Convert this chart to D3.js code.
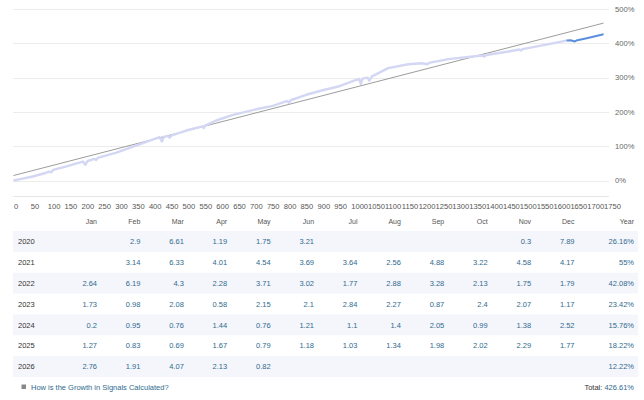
<!DOCTYPE html>
<html>
<head>
<meta charset="utf-8">
<script src="https://cdn.jsdelivr.net/npm/d3@7"></script>
<style>
  body { margin: 0; background: #fff; }
  svg { display: block; font-family: "Liberation Sans", Arial, sans-serif; }
</style>
</head>
<body>
<div id="chart"></div>
<script>
"use strict";

// growth curve: x = record index, y = growth %
var growthX = [0, 20, 57, 95, 107, 112, 118, 160, 206, 213, 220, 240, 245, 250, 305, 384, 433, 440, 446, 458, 463, 468,
  512, 560, 564, 568, 601, 651, 730, 769, 812, 817, 822, 868, 914, 963, 1008, 1025, 1030, 1035, 1050, 1055, 1062,
  1111, 1171, 1211, 1228, 1232, 1290, 1389, 1396, 1402, 1468, 1500, 1505, 1510, 1537, 1576, 1640];
var growthY = [0, 4, 11.7, 22, 26.2, 24, 31, 42, 55.4, 46, 57, 63, 60, 66, 81.6, 109, 126.5, 114, 127, 130, 125, 131,
  145.8, 158, 153, 160, 175, 191.5, 210, 217.8, 232, 226, 234, 250, 262.4, 274, 290.7, 296, 282, 297, 300, 291, 303,
  327.7, 339, 342, 339, 343, 354, 364.5, 361, 366, 376, 382, 379, 383, 388, 395.6, 408];

// latest stretch, drawn in the stronger blue
var recentX = [1640, 1652, 1665, 1672, 1700, 1750];
var recentY = [408, 409, 405.5, 409, 415, 426.6];

// straight trend line
var trendX = [0, 1750];
var trendY = [14.6, 459];

var xTicks = d3.range(0, 1751, 50);
var yTicks = [0, 100, 200, 300, 400, 500];

var months = ["Jan", "Feb", "Mar", "Apr", "May", "Jun", "Jul", "Aug", "Sep", "Oct", "Nov", "Dec"];
var years = ["2020", "2021", "2022", "2023", "2024", "2025", "2026"];
var monthly = [
  [null, 2.9, 6.61, 1.19, 1.75, 3.21, null, null, null, null, 0.3, 7.89],
  [null, 3.14, 6.33, 4.01, 4.54, 3.69, 3.64, 2.56, 4.88, 3.22, 4.58, 4.17],
  [2.64, 6.19, 4.3, 2.28, 3.71, 3.02, 1.77, 2.88, 3.28, 2.13, 1.75, 1.79],
  [1.73, 0.98, 2.08, 0.58, 2.15, 2.1, 2.84, 2.27, 0.87, 2.4, 2.07, 1.17],
  [0.2, 0.95, 0.76, 1.44, 0.76, 1.21, 1.1, 1.4, 2.05, 0.99, 1.38, 2.52],
  [1.27, 0.83, 0.69, 1.67, 0.79, 1.18, 1.03, 1.34, 1.98, 2.02, 2.29, 1.77],
  [2.76, 1.91, 4.07, 2.13, 0.82, null, null, null, null, null, null, null]
];
var yearTotals = ["26.16%", "55%", "42.08%", "23.42%", "15.76%", "18.22%", "12.22%"];
var totalText = "426.61%";

var width = 644, height = 400;
var blue = "#2f6b8e";

var svg = d3.select("#chart").append("svg")
  .attr("width", width)
  .attr("height", height);

var x = d3.scaleLinear().domain([0, 1766]).range([13.5, 609]);
var y = d3.scaleLinear().domain([-48, 500]).range([197, 9]);

// grid
svg.append("g").selectAll("line")
  .data(yTicks)
  .enter().append("line")
    .attr("x1", 13).attr("x2", 609)
    .attr("y1", function(d){ return Math.round(y(d)) + 0.5; })
    .attr("y2", function(d){ return Math.round(y(d)) + 0.5; })
    .attr("stroke", "#ececec");

svg.append("line")
  .attr("x1", 13).attr("x2", 609)
  .attr("y1", 196.5).attr("y2", 196.5)
  .attr("stroke", "#e6e6e6");

// y labels on the right
svg.append("g").selectAll("text")
  .data(yTicks)
  .enter().append("text")
    .attr("x", 615)
    .attr("y", function(d){ return y(d) + 2.8; })
    .attr("font-size", "7.6px")
    .attr("fill", "#666")
    .text(function(d){ return d + "%"; });

// x labels
svg.append("g").selectAll("text")
  .data(xTicks)
  .enter().append("text")
    .attr("x", function(d){ return x(d) + 0.5; })
    .attr("y", 209)
    .attr("font-size", "7.6px")
    .attr("fill", "#555")
    .text(function(d){ return d; });

var line = d3.line()
  .x(function(d){ return x(d[0]); })
  .y(function(d){ return y(d[1]); });

svg.append("path")
  .datum(d3.zip(trendX, trendY))
  .attr("d", line)
  .attr("fill", "none")
  .attr("stroke", "#9c9c9c")
  .attr("stroke-width", 1);

svg.append("path")
  .datum(d3.zip(growthX, growthY))
  .attr("d", line)
  .attr("fill", "none")
  .attr("stroke", "#d3d7f3")
  .attr("stroke-width", 2.4)
  .attr("stroke-linejoin", "round");

svg.append("path")
  .datum(d3.zip(recentX, recentY))
  .attr("d", line)
  .attr("fill", "none")
  .attr("stroke", "#5b8fde")
  .attr("stroke-width", 2)
  .attr("stroke-linejoin", "round");

// table
var col = d3.scaleLinear().domain([0, 11]).range([97, 574.5]);
var row = d3.scaleBand().domain(years).range([231, 377]);

var table = svg.append("g");

table.selectAll("rect")
  .data(years.filter(function(d, i){ return i % 2 === 0; }))
  .enter().append("rect")
    .attr("x", 13).attr("width", 625)
    .attr("y", function(d){ return row(d); })
    .attr("height", row.bandwidth())
    .attr("fill", "#f5f6fc");

table.selectAll("text.head")
  .data(months)
  .enter().append("text")
    .attr("class", "head")
    .attr("x", function(d, i){ return col(i); })
    .attr("y", 223.5)
    .attr("text-anchor", "end")
    .attr("font-size", "7px")
    .attr("fill", "#555")
    .text(function(d){ return d; });

table.append("text")
  .attr("x", 634).attr("y", 223.5)
  .attr("text-anchor", "end")
  .attr("font-size", "7px")
  .attr("fill", "#555")
  .text("Year");

var rows = table.selectAll("g.row")
  .data(years)
  .enter().append("g")
    .attr("class", "row")
    .attr("transform", function(d){ return "translate(0," + (row(d) + row.bandwidth() / 2 + 2.7) + ")"; });

rows.append("text")
  .attr("x", 18)
  .attr("font-size", "7.5px")
  .attr("fill", "#333")
  .text(function(d){ return d; });

rows.selectAll("text.val")
  .data(function(d, i){ return monthly[i]; })
  .enter().append("text")
    .attr("class", "val")
    .attr("x", function(d, i){ return col(i); })
    .attr("text-anchor", "end")
    .attr("font-size", "7.5px")
    .attr("fill", blue)
    .text(function(d){ return d == null ? "" : d; });

rows.append("text")
  .attr("x", 634)
  .attr("text-anchor", "end")
  .attr("font-size", "7.5px")
  .attr("fill", blue)
  .text(function(d, i){ return yearTotals[i]; });

// footer
svg.append("rect")
  .attr("x", 21.5).attr("y", 384.5)
  .attr("width", 4.5).attr("height", 4.5)
  .attr("fill", "#888");

svg.append("text")
  .attr("x", 31).attr("y", 389.5)
  .attr("font-size", "7.5px")
  .attr("fill", blue)
  .text("How is the Growth in Signals Calculated?");

var total = svg.append("text")
  .attr("x", 634).attr("y", 389.5)
  .attr("text-anchor", "end")
  .attr("font-size", "7.5px");
total.append("tspan").attr("fill", "#333").text("Total: ");
total.append("tspan").attr("fill", blue).text(totalText);
</script>
</body>
</html>
